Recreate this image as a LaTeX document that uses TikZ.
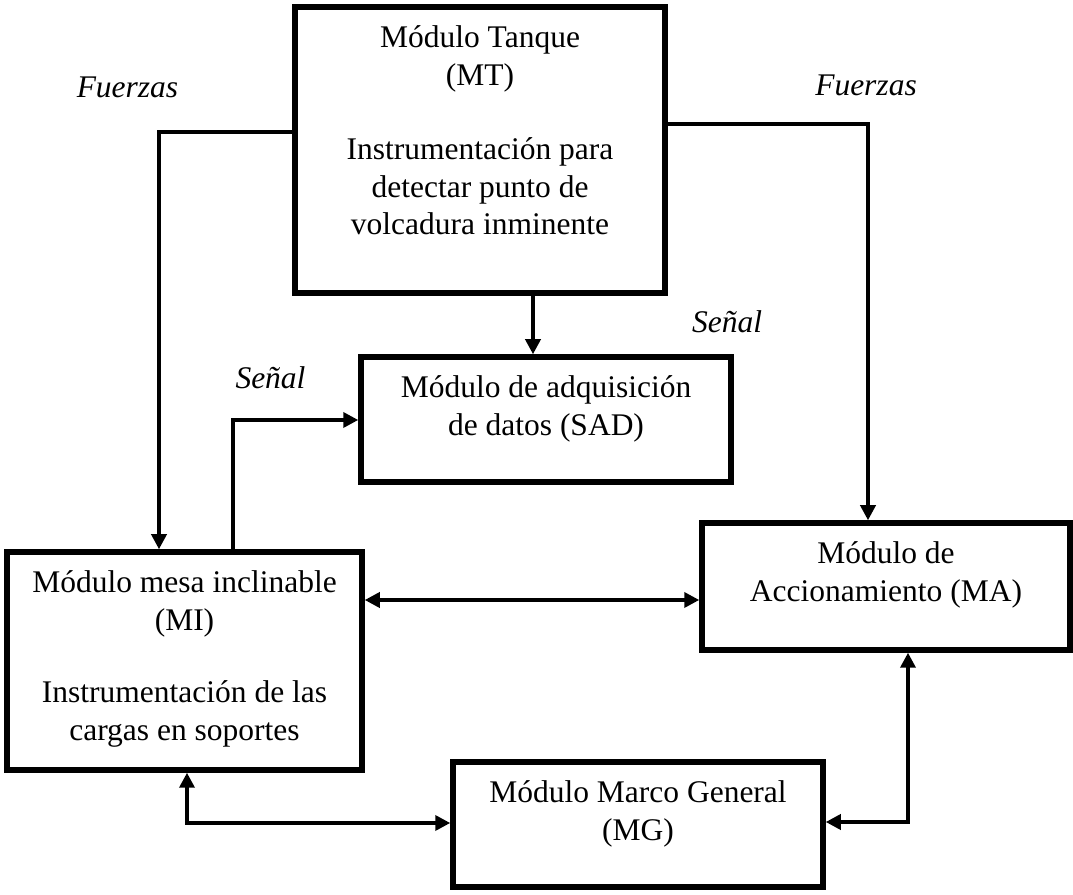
\documentclass[tikz,border=0pt]{standalone}
\usepackage{fontspec}
\setmainfont{Liberation Serif}
\usetikzlibrary{arrows.meta}
\begin{document}
\begin{tikzpicture}[x=1pt,y=1pt,
  box/.style={draw, line width=5.5pt, inner sep=0pt},
  txt/.style={align=center, font=\fontsize{31.5}{37.5}\selectfont, inner sep=0pt, anchor=north},
  lbl/.style={font=\fontsize{31.5}{37.5}\selectfont\itshape, inner sep=0pt},
  conn/.style={line width=3.5pt, -{Triangle[length=15pt,width=15pt]}},
  conntwo/.style={line width=3.5pt, {Triangle[length=15pt,width=15pt]}-{Triangle[length=15pt,width=15pt]}}]
\useasboundingbox (0,0) rectangle (1073,894);
% boxes
\node[box, minimum width=370pt, minimum height=286pt] (mt) at (480,744) {};
\node[box, minimum width=370pt, minimum height=125pt] (sad) at (546,474.5) {};
\node[box, minimum width=355pt, minimum height=218pt] (mi) at (184.5,233) {};
\node[box, minimum width=368pt, minimum height=127pt] (ma) at (886,307.5) {};
\node[box, minimum width=370pt, minimum height=125pt] (mg) at (638,69.5) {};
% texts
\node[txt] (mtt) at ([yshift=-21.5pt]mt.north) {Módulo Tanque\\(MT)\\[37pt]Instrumentación para\\detectar punto de\\volcadura inminente};
\node[txt] (sadt) at ([yshift=-21.5pt]sad.north) {Módulo de adquisición\\de datos (SAD)};
\node[txt] (mit) at ([yshift=-21.5pt]mi.north) {Módulo mesa inclinable\\(MI)\\[35pt]Instrumentación de las\\cargas en soportes};
\node[txt] (mat) at ([yshift=-21.5pt]ma.north) {Módulo de\\Accionamiento (MA)};
\node[txt] (mgt) at ([yshift=-21.5pt]mg.north) {Módulo Marco General\\(MG)};
% labels
\node[lbl] (f1) at (127.5,807) {Fuerzas};
\node[lbl] (f2) at (866,809) {Fuerzas};
\node[lbl] (s1) at (270.5,516) {Señal};
\node[lbl] (s2) at (727,572) {Señal};
% connectors
\coordinate (fl) at (159,762);
\draw[conn] (fl -| mt.west) -- (fl) -- (fl |- mi.north);
\coordinate (fr) at (868,770);
\draw[conn] (fr -| mt.east) -- (fr) -- (fr |- ma.north);
\coordinate (ms) at (533,0);
\draw[conn] (mt.south -| ms) -- (sad.north -| ms);
\coordinate (sg) at (233,474);
\draw[conn] (mi.north -| sg) -- (sg) -- (sg -| sad.west);
\coordinate (hm) at (0,294);
\draw[conntwo] (mi.east |- hm) -- (ma.west |- hm);
\coordinate (bl) at (187,71);
\draw[conntwo] (mi.south -| bl) -- (bl) -- (bl -| mg.west);
\coordinate (br) at (908,72);
\draw[conntwo] (ma.south -| br) -- (br) -- (br -| mg.east);
\end{tikzpicture}
\end{document}
